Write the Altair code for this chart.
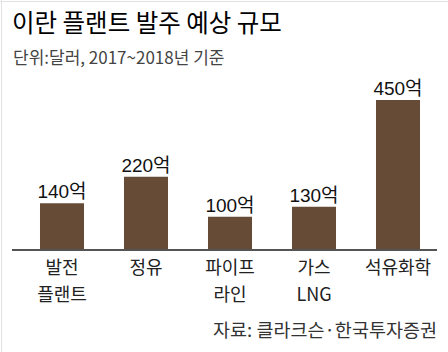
import altair as alt
import pandas as pd

categories = ["발전\n플랜트", "정유", "파이프\n라인", "가스\nLNG", "석유화학"]
values = [140, 220, 100, 130, 450]
value_labels = ["140억", "220억", "100억", "130억", "450억"]

title_text = "이란 플랜트 발주 예상 규모"
subtitle_text = "단위:달러, 2017~2018년 기준"
source_text = "자료: 클라크슨·한국투자증권"

KR = "Noto Sans CJK KR"
NUM = "Liberation Sans, Noto Sans CJK KR"
BAR = "#664B37"

df = pd.DataFrame({"cat": categories, "value": values, "label": value_labels})

xenc = alt.X("cat:N", sort=categories,
             scale=alt.Scale(paddingInner=0.476, paddingOuter=0.238), axis=None)
yenc = alt.Y("value:Q", scale=alt.Scale(domain=[0, 450]), axis=None)

base = alt.Chart(df)

bars = base.mark_bar(color=BAR).encode(x=xenc, y=yenc)

labels = base.mark_text(font=NUM, fontSize=19, color="#111", baseline="alphabetic", dy=-5).encode(
    x=xenc, y=yenc, text="label:N")

cats = base.mark_text(font=KR, fontSize=18, color="#222", baseline="top",
                      lineBreak="\n", lineHeight=27).encode(
    x=xenc, y=alt.value(160), text="cat:N")

baseline = base.mark_rule(color="#555", strokeWidth=1.5).encode(
    x=alt.value(-8), x2=alt.value(417), y=alt.value(150))

def txt(s, x, y, size, color, align="left", weight="normal", font=KR):
    return alt.Chart(pd.DataFrame({"t": [s]})).mark_text(
        font=font, fontSize=size, color=color, align=align, baseline="middle",
        fontWeight=weight).encode(text="t:N", x=alt.value(x), y=alt.value(y))

title = txt(title_text, -8, -75, 24.5, "#000", weight="normal")
subtitle = txt(subtitle_text, -7, -41, 17, "#444")
source = txt(source_text, 417, 231, 18.5, "#333", align="right")

border_top = alt.Chart(pd.DataFrame({"a": [0]})).mark_rule(color="#e2e2e2", strokeWidth=1).encode(
    x=alt.value(-20), x2=alt.value(428), y=alt.value(-98.5))
border_left = alt.Chart(pd.DataFrame({"a": [0]})).mark_rule(color="#e2e2e2", strokeWidth=1).encode(
    x=alt.value(-18.5), y=alt.value(-100), y2=alt.value(252))

chart = alt.layer(border_top, border_left, bars, labels, cats, baseline, title, subtitle, source).properties(
    width=420, height=150,
    autosize=alt.AutoSizeParams(type="none"),
    padding={"left": 20, "top": 100, "right": 8, "bottom": 102},
    background="white",
).configure_view(stroke=None)

chart.save("out.html", embed_options={"renderer": "svg", "actions": False})
